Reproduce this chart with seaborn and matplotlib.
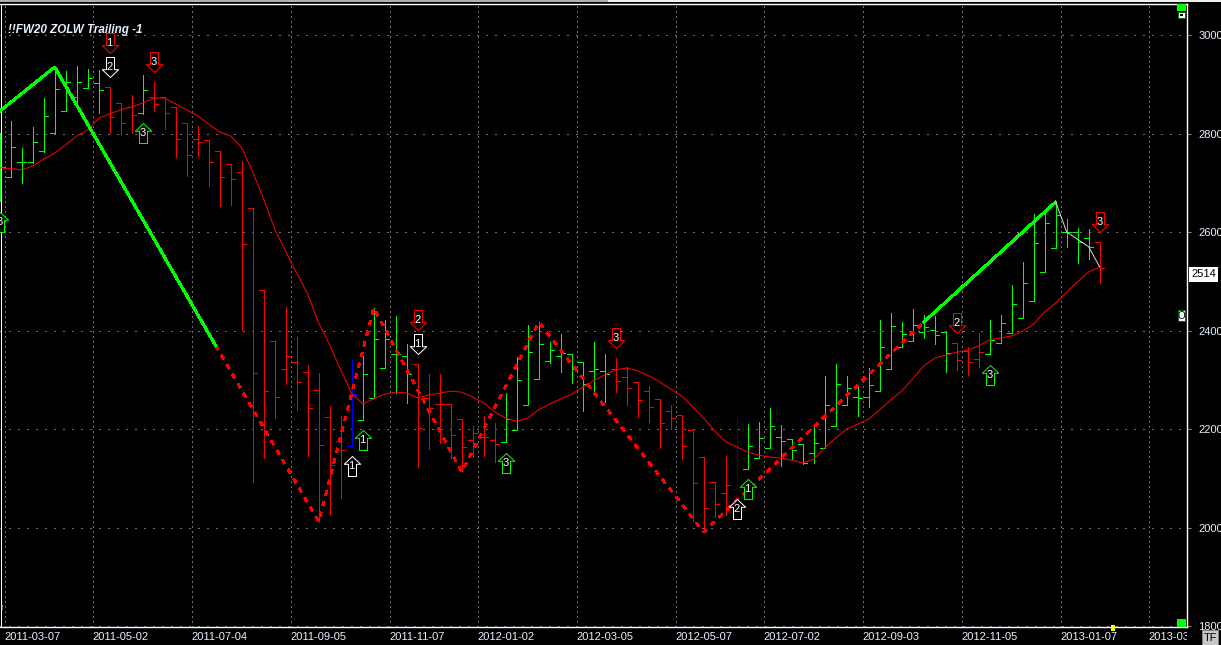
import numpy as np
import pandas as pd
import matplotlib
matplotlib.use("Agg")
import matplotlib.pyplot as plt
import seaborn as sns
from matplotlib.path import Path
from matplotlib.patches import Rectangle
from matplotlib.transforms import Bbox

# weekly bars, first one sits just before 2011-03-07
weeks = list(range(-1, 100))
highs = [2801, 2825, 2771, 2813, 2872, 2933, 2927, 2937, 2931, 2929,
         2894, 2862, 2878, 2919, 2905, 2874, 2854, 2821, 2815, 2787,
         2764, 2738, 2744, 2649, 2482, 2379, 2448, 2387, 2330, 2314,
         2247, 2227, 2342, 2348, 2446, 2421, 2430, 2373, 2332, 2312,
         2312, 2251, 2220, 2206, 2227, 2212, 2273, 2346, 2411, 2417,
         2377, 2393, 2352, 2336, 2377, 2352, 2344, 2326, 2296, 2287,
         2261, 2249, 2229, 2198, 2143, 2093, 2145, 2222, 2210, 2214,
         2243, 2208, 2180, 2170, 2208, 2308, 2332, 2308, 2287, 2324,
         2421, 2436, 2417, 2444, 2432, 2430, 2397, 2375, 2367, 2395,
         2421, 2432, 2492, 2539, 2637, 2639, 2661, 2626, 2608, 2606,
         2580]
lows = [2663, 2712, 2700, 2740, 2762, 2801, 2846, 2862, 2892, 2842,
        2801, 2799, 2801, 2840, 2846, 2809, 2752, 2714, 2754, 2693,
        2653, 2655, 2401, 2093, 2141, 2222, 2291, 2239, 2145, 2011,
        2028, 2060, 2166, 2218, 2263, 2324, 2273, 2253, 2123, 2160,
        2172, 2141, 2115, 2143, 2145, 2133, 2174, 2198, 2249, 2302,
        2334, 2316, 2293, 2237, 2275, 2255, 2275, 2249, 2224, 2214,
        2162, 2200, 2139, 2013, 1991, 2021, 2025, 2078, 2119, 2141,
        2162, 2125, 2139, 2129, 2131, 2162, 2206, 2249, 2227, 2245,
        2277, 2322, 2367, 2379, 2385, 2373, 2316, 2320, 2310, 2326,
        2352, 2375, 2395, 2425, 2460, 2519, 2568, 2570, 2537, 2545,
        2497]
opens = [2663, 2712, 2742, 2742, 2764, 2801, 2846, 2874, 2892, 2902,
         2894, 2862, 2854, 2842, 2874, 2874, 2854, 2821, 2789, 2787,
         2764, 2738, 2722, 2649, 2482, 2379, 2322, 2336, 2316, 2279,
         2224, 2176, 2166, 2218, 2263, 2324, 2352, 2348, 2332, 2263,
         2251, 2251, 2220, 2178, 2184, 2178, 2174, 2198, 2249, 2302,
         2338, 2348, 2352, 2336, 2318, 2318, 2322, 2306, 2296, 2277,
         2261, 2237, 2229, 2198, 2143, 2093, 2070, 2078, 2119, 2141,
         2162, 2184, 2180, 2170, 2151, 2162, 2206, 2249, 2265, 2265,
         2277, 2322, 2367, 2379, 2397, 2401, 2397, 2375, 2358, 2342,
         2352, 2375, 2395, 2425, 2460, 2519, 2568, 2600, 2600, 2588,
         2580]
closes = [2732, 2773, 2742, 2783, 2836, 2890, 2905, 2905, 2913, 2888,
          2833, 2821, 2838, 2888, 2860, 2842, 2789, 2756, 2783, 2742,
          2712, 2708, 2576, 2314, 2277, 2265, 2348, 2296, 2243, 2168,
          2127, 2157, 2271, 2312, 2383, 2383, 2352, 2312, 2202, 2243,
          2251, 2188, 2164, 2192, 2184, 2170, 2220, 2300, 2356, 2373,
          2360, 2354, 2322, 2291, 2322, 2312, 2298, 2283, 2259, 2245,
          2212, 2222, 2166, 2091, 2040, 2048, 2086, 2162, 2166, 2182,
          2206, 2176, 2157, 2131, 2172, 2249, 2291, 2283, 2263, 2289,
          2367, 2409, 2393, 2411, 2407, 2391, 2354, 2340, 2336, 2356,
          2381, 2415, 2454, 2497, 2578, 2618, 2635, 2600, 2580, 2570,
          2527]
bar_states = "g" * 10 + "r" * 3 + "g" + "r" * 18 + "b" + "g" * 5 + "r" * 8 + "g" * 10 + "r" * 11 + "n" + "g" * 19 + "r" * 3 + "g" * 10 + "r"

# the red moving average, one value per bar
ma_values = [2730, 2729, 2726, 2734, 2748, 2760, 2777, 2795, 2807, 2831,
             2840, 2848, 2854, 2862, 2872, 2872, 2860, 2848, 2836, 2819,
             2803, 2795, 2771, 2722, 2667, 2606, 2561, 2517, 2474, 2415,
             2371, 2320, 2273, 2251, 2261, 2271, 2275, 2273, 2263, 2269,
             2273, 2277, 2275, 2265, 2253, 2235, 2222, 2216, 2222, 2239,
             2251, 2261, 2271, 2285, 2298, 2310, 2320, 2324, 2318, 2308,
             2296, 2281, 2267, 2245, 2222, 2196, 2174, 2164, 2153, 2147,
             2143, 2141, 2137, 2131, 2139, 2162, 2182, 2200, 2210, 2220,
             2239, 2259, 2277, 2302, 2328, 2344, 2350, 2356, 2360, 2369,
             2381, 2385, 2389, 2399, 2413, 2438, 2456, 2478, 2499, 2519,
             2529]

# zigzag pieces
green1_weeks = [-1.06, 4, 18.64]
green1_prices = [2844, 2935, 2369]
dash_weeks = [18.64, 28, 33, 41, 48, 63, 83]
dash_prices = [2369, 2012, 2446, 2113, 2417, 1991, 2417]
green2_weeks = [83, 95]
green2_prices = [2417, 2661]
white_weeks = [95, 96, 98, 99]
white_prices = [2661, 2600, 2570, 2529]

# wave arrows
arrow_weeks = [9, 9, 13, 12, 31, 32, 37, 37, 45, 55, 66, 67, 86, 89, 99, -1]
arrow_prices = [2984, 2935, 2945, 2801, 2124, 2178, 2421, 2372, 2131, 2385, 2037, 2078, 2415, 2310, 2620, 2620]
arrow_dirs = ["d", "d", "d", "u", "u", "u", "d", "d", "u", "d", "u", "u", "d", "u", "d", "u"]
arrow_colors = ["r", "w", "r", "g", "w", "g", "r", "w", "g", "r", "w", "g", "r", "g", "r", "g"]
arrow_digits = ["1", "2", "3", "3", "1", "1", "2", "1", "3", "3", "2", "1", "2", "3", "3", "3"]

tick_weeks = [0, 8, 17, 26, 35, 43, 52, 61, 69, 78, 87, 96, 104]
tick_dates = ["2011-03-07", "2011-05-02", "2011-07-04", "2011-09-05", "2011-11-07", "2012-01-02", "2012-03-05",
              "2012-05-07", "2012-07-02", "2012-09-03", "2012-11-05", "2013-01-07", "2013-03-04"]
price_ticks = [1800, 2000, 2200, 2400, 2600, 2800, 3000]
last_price = 2514

W, H = 1221, 645
LIME = "#00ff00"
RED = "#ff0000"
PALE = "#e6f0ff"
colors = {"g": LIME, "r": RED, "b": "#0000ff", "n": "#0000b4", "w": "#ffffff"}

sns.set_theme(style="dark", rc={"figure.facecolor": "black", "axes.facecolor": "black", "savefig.facecolor": "black"})
plt.rcParams["font.family"] = ["Liberation Sans", "DejaVu Sans"]

fig = plt.figure(figsize=(W / 100, H / 100), dpi=100)
ax = fig.add_axes([0, 1 - 627 / H, 1186.5 / W, (627 - 3.5) / H])
ax.set_xlim((0 - 10.7) / 11, (1186.5 - 10.7) / 11)
ax.set_ylim(1798, 3064)

px = 0.72  # one screen pixel in points

# grid
for p in price_ticks:
    ax.axhline(p, color="#707070", lw=px, ls=(0, (2, 8)), antialiased=False, zorder=1)
for t in tick_weeks:
    ax.axvline(t - 0.56, color="#707070", lw=px, ls=(0, (2, 4)), antialiased=False, zorder=1)

# bars
bars = pd.DataFrame({"week": weeks, "high": highs, "low": lows, "open": opens, "close": closes,
                     "state": list(bar_states)})
bar_cols = [colors[s] for s in bars["state"]]
ax.vlines(bars["week"], bars["low"], bars["high"], colors=bar_cols, lw=px, antialiased=False, zorder=2)
ax.hlines(bars["open"], bars["week"] - 0.42, bars["week"], colors=bar_cols, lw=px, antialiased=False, zorder=2)
ax.hlines(bars["close"], bars["week"], bars["week"] + 0.42, colors=bar_cols, lw=px, antialiased=False, zorder=2)

# moving average and zigzag
sns.lineplot(x=weeks, y=ma_values, color=RED, lw=px, ax=ax, estimator=None, zorder=3)
sns.lineplot(x=dash_weeks, y=dash_prices, color=RED, lw=1.2, ls=(0, (3, 3.6)), ax=ax, estimator=None, zorder=3, antialiased=False)
sns.lineplot(x=green1_weeks, y=green1_prices, color=LIME, lw=1.5, ax=ax, estimator=None, zorder=3, antialiased=False)
sns.lineplot(x=green2_weeks, y=green2_prices, color=LIME, lw=1.5, ax=ax, estimator=None, zorder=3, antialiased=False)
sns.lineplot(x=white_weeks, y=white_prices, color="#d8d8d8", lw=px, ax=ax, estimator=None, zorder=3)

# arrows
up_verts = np.array([(0, 1), (0.82, 0.22), (0.4, 0.22), (0.4, -1), (-0.4, -1), (-0.4, 0.22), (-0.82, 0.22), (0, 1)])
up_arrow = Path(up_verts, closed=True)
down_arrow = Path(up_verts * [1, -1], closed=True)
for w, p, d, c, n in zip(arrow_weeks, arrow_prices, arrow_dirs, arrow_colors, arrow_digits):
    sns.scatterplot(x=[w], y=[p], marker=up_arrow if d == "u" else down_arrow, s=207, color="black",
                    edgecolor=colors[c], linewidth=px, ax=ax, zorder=4, legend=False, antialiased=False)
    ax.text(w, p, n, color="white", fontsize=8, ha="center", va="center", zorder=5, clip_on=True)

# frame
for side in ["top", "right", "bottom"]:
    ax.spines[side].set_color("white")
    ax.spines[side].set_linewidth(1.0)
    ax.spines[side].set_visible(True)
ax.spines["left"].set_visible(False)
ax.axvline((1.5 - 10.7) / 11, color="white", lw=px, zorder=1.5, antialiased=False)

# axis text
ax.set_xticks([t - 0.56 for t in tick_weeks])
ax.set_xticklabels(tick_dates, fontsize=8, color=PALE, ha="left")
ax.tick_params(axis="x", length=0, pad=3.5)
for lab in ax.get_xticklabels():
    lab.set_clip_box(Bbox([[0, 0], [1187, H]]))
    lab.set_clip_on(True)
ax.yaxis.tick_right()
ax.set_yticks(price_ticks)
ax.set_yticklabels([str(p) for p in price_ticks], fontsize=8, color=PALE)
ax.tick_params(axis="y", length=3, width=px, color="#808080", pad=5.5)
ax.grid(False)
ax.set_xlabel("")
ax.set_ylabel("")

ax.text(8 / 1186.5, 1 - (30 - 3.5) / 623.5, "!!FW20 ZOLW Trailing -1", transform=ax.transAxes, color=PALE,
        fontsize=8.4, fontweight="bold", fontstyle="italic", ha="left", va="center", zorder=6)
ax.text(1 + 5 / 1186.5, last_price, str(last_price), transform=ax.get_yaxis_transform(), color="black", fontsize=8,
        va="center", ha="left", clip_on=False, zorder=6,
        bbox=dict(facecolor="white", edgecolor="none", pad=1.6))


# screen furniture around the plot, placed in pixels
def box(x0, y0, x1, y1, color, **kw):
    fig.add_artist(Rectangle((x0 / W, 1 - y1 / H), (x1 - x0) / W, (y1 - y0) / H, transform=fig.transFigure,
                             facecolor=color, edgecolor=kw.pop("edge", "none"), linewidth=px, **kw))


box(0, 0, 608, 1.5, "#b0b0b0")
box(608, 0, W, 1.5, "#f0f0f0")
box(1177, 4, 1186, 11, LIME)
box(1178, 12, 1185, 18, "white", edge="#006400")
box(1180, 14, 1183, 16, "black")
box(1178, 310, 1185, 321, "white", edge="#006400")
fig.text(1181.5 / W, 1 - 315.5 / H, "O", color="black", fontsize=7, ha="center", va="center")
box(1177, 619, 1186, 627, LIME)
box(1111, 625, 1115, 631, "#ffff00")
box(1202, 630, 1218, 645, "#c8c8c8", edge="#808080")
fig.text(1210 / W, 1 - 638 / H, "TF", color="black", fontsize=8, ha="center", va="center")
fig.text(2.5 / W, 1 - 609 / H, "f", color="#ffa040", fontsize=6, ha="center", va="center")

fig.savefig("out.png", dpi=100)
